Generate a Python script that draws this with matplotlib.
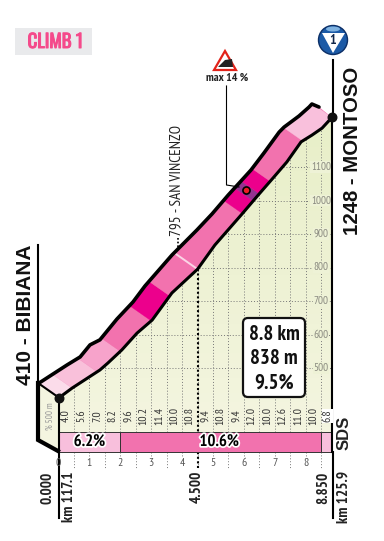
import numpy as np
import matplotlib
matplotlib.use('Agg')
import matplotlib.pyplot as plt
import matplotlib.patheffects as pe
from matplotlib.colors import LinearSegmentedColormap
from matplotlib.patches import Polygon, Rectangle, FancyBboxPatch, Circle, Ellipse
from matplotlib.transforms import Affine2D

narrow = ['PT Sans Narrow', 'Liberation Sans', 'DejaVu Sans']
wide = ['Liberation Sans', 'DejaVu Sans']
badge = ['Oswald', 'Liberation Sans', 'DejaVu Sans']
plt.rcParams['font.family'] = narrow
matplotlib.set_loglevel('error')

W, H = 384, 541

# lower edge of the road band = the altitude profile
profile_km = [0, .44, .89, 1.34, 1.6, 2.05, 2.54, 3.03, 3.67, 4.5, 5.06, 5.97, 6.46, 6.97, 7.39, 7.85, 8.2, 8.53, 8.85]
profile_alt = [410, 440, 467, 494, 515, 554, 604, 643, 724, 795, 867, 963, 1016, 1070, 1115, 1175, 1195, 1216, 1248]
# upper edge of the band as drawn (perspective offset)
upper_km = [-.63, .275, .70, 1.02, 1.34, 1.89, 2.41, 2.8, 3.67, 4.48, 4.97, 5.49, 6.23, 6.65, 7.14, 7.3, 7.78, 8.11, 8.2, 8.43]
upper_alt = [455, 509, 533, 569, 584, 646, 697, 745, 837, 912, 960, 1016, 1091, 1142, 1204, 1219, 1252, 1279, 1288, 1279]

# band colour sections
sect_start = [0, .44, 1.25, 2.0, 3.0, 3.6, 4.5, 5.95, 6.3, 6.5, 6.85, 7.9]
sect_end = [.44, 1.25, 2.0, 3.0, 3.6, 4.5, 5.95, 6.3, 6.5, 6.85, 7.9, 8.85]
sect_col = ['#fbdcea', '#f9c0da', '#f7a3cb', '#f272ae', '#ec008c', '#f272ae', '#f272ae',
            '#ec008c', '#93328f', '#ec008c', '#f272ae', '#f9c0dc']

grad_labels = ['4.0', '5.6', '7.0', '8.2', '9.6', '10.2', '11.4', '10.0', '10.8', '9.4',
               '10.8', '9.4', '12.0', '10.0', '12.6', '11.0', '10.0', '6.8']
grad_km = [.25, .75, 1.25, 1.75, 2.25, 2.75, 3.25, 3.75, 4.25, 4.75,
           5.25, 5.75, 6.25, 6.75, 7.25, 7.75, 8.25, 8.7]

bar_start = [0, 2, 8.5]
bar_end = [2, 8.5, 8.85]
bar_col = ['#f8bfdc', '#f272ae', '#f8bfdc']
bar_text = ['6.2%', '10.6%', '']
bar_text_km = [1.0, 5.2, 8.7]

km_ticks = [0, 1, 2, 3, 4, 5, 6, 7, 8]
alt_ticks = [500, 600, 700, 800, 900, 1000, 1100]

# pixel scale of the drawing
px_km = 30.9
px_m = 0.335
x0, y500 = 58.5, 368


def kmx(px):
    return (px - x0) / px_km


def alty(py):
    return 500 + (y500 - py) / px_m


fig = plt.figure(figsize=(W / 100, H / 100), dpi=100)
ax = fig.add_axes([0, 0, 1, 1])
ax.set_xlim(kmx(0), kmx(W))
ax.set_ylim(alty(H), alty(0))
ax.axis('off')

# furniture placed in image pixels, y going down
pxt = Affine2D().scale(1, -1).translate(0, H)

alt_base = alty(432)
alt_bar = alty(452)
prof_x = np.array(profile_km)
prof_y = np.array(profile_alt)

# green area under the profile
cmap = LinearSegmentedColormap.from_list('g', ['#f4f5e0', '#e8efc8'])
im = ax.imshow(np.linspace(0, 1, 64)[:, None], extent=[0, 8.85, alt_base, 1248], origin='lower',
               aspect='auto', cmap=cmap, zorder=1)
area = Polygon(list(zip(profile_km, profile_alt)) + [(8.85, alt_base), (0, alt_base)], closed=True,
               transform=ax.transData, fc='none', ec='none')
ax.add_patch(area)
im.set_clip_path(area)
ax.set_xlim(kmx(0), kmx(W))
ax.set_ylim(alty(H), alty(0))

# grid
for k in np.arange(.5, 8.6, .5):
    top = np.interp(k, prof_x, prof_y)
    ax.plot([k, k], [alt_base, top], color='#777777', lw=.7, ls=(0, (1, 2)), zorder=2)
    ax.plot([k, k], [alt_bar, alty(469 if k % 1 else 456)], color='#777777', lw=.7, ls=(0, (1, 2)), zorder=2)
for a in alt_ticks:
    left = np.interp(a, prof_y, prof_x)
    ax.plot([left, 8.85], [a, a], color='#777777', lw=.7, ls=(0, (1, 2)), zorder=2)
    ax.text(8.5, a, str(a), color='#8a8a80', fontsize=8, ha='center', va='center', zorder=3,
            bbox=dict(fc='#eef2d6', ec='none', pad=.6))

# left wall of the band
wall = Polygon([(38, 383), (58, 397), (58, 451), (38, 440)], closed=True, transform=pxt,
               fc='#f4f5e0', ec='none', zorder=2)
ax.add_patch(wall)
ax.plot([38, 38, 58], [383, 440, 451], transform=pxt, color='k', lw=3, solid_joinstyle='miter', zorder=6)
ax.plot([38, 58], [383, 397], transform=pxt, color='k', lw=1.5, zorder=6)
ax.text(50, 416, '% 500 m', transform=pxt, rotation=90, color='#999999', fontsize=6.5, ha='center', va='center', zorder=6)
ax.plot([38, 38], [245, 383], transform=pxt, color='k', lw=1.5, zorder=6)

# road band, sections clipped to its outline
outline = Polygon(list(zip(upper_km, upper_alt)) + list(zip(profile_km[::-1], profile_alt[::-1])), closed=True,
                  transform=ax.transData, fc='#f272ae', ec='none', zorder=3)
ax.add_patch(outline)
dx, dy = -20 / px_km * 1.3, 14 / px_m * 1.3
for a, b, c in zip(sect_start, sect_end, sect_col):
    ya, yb = np.interp(a, prof_x, prof_y), np.interp(b, prof_x, prof_y)
    sec = Polygon([(a - dx * .3, ya - dy * .3), (b - dx * .3, yb - dy * .3), (b + dx, yb + dy), (a + dx, ya + dy)],
                  closed=True, fc=c, ec=c, lw=.2, zorder=4)
    ax.add_patch(sec)
    sec.set_clip_path(outline)
# pale line at the intermediate point
ya = np.interp(4.5, prof_x, prof_y)
ln, = ax.plot([4.5, 4.5 + dx], [ya, ya + dy], color='#fbd5e6', lw=1.4, zorder=5)
ln.set_clip_path(outline)

ax.plot(upper_km, upper_alt, color='k', lw=2.6, solid_joinstyle='round', solid_capstyle='round', zorder=6)
ax.plot(profile_km, profile_alt, color='k', lw=2.2, solid_joinstyle='round', zorder=6)

# gradient labels
for k, t in zip(grad_km, grad_labels):
    ax.text(k, alty(416), t, rotation=90, color='#333333', fontsize=8.5, ha='center', va='center', zorder=7,
            bbox=dict(fc='white', ec='none', pad=.5) if t == '6.8' else None)

# summary bar
for a, b, c, t, tk in zip(bar_start, bar_end, bar_col, bar_text, bar_text_km):
    ax.add_patch(Rectangle((a, alt_bar), b - a, alt_base - alt_bar, fc=c, ec='#333333', lw=.7, zorder=5))
    if t:
        ax.text(tk, (alt_bar + alt_base) / 2, t, color='k', fontsize=12,
                fontweight='bold', ha='center', va='center', zorder=7,
                path_effects=[pe.withStroke(linewidth=2.5, foreground='white')])

# km ticks
for k in km_ticks:
    ax.text(k, alty(463), str(k), color='#555555', fontsize=8.5, ha='center', va='center', zorder=7)

# axes lines at start and finish
ax.plot([0, 0], [alty(397), alty(518)], color='k', lw=1.5, zorder=6)
ax.plot([8.85, 8.85], [alt_bar, 1248], color='k', lw=1.5, zorder=6)
ax.plot([332.5, 332.5], [60, 119], transform=pxt, color='k', lw=1.5, zorder=6)
ax.plot([332.5, 332.5], [452, 518], transform=pxt, color='k', lw=1.5, zorder=6)

# intermediate point
ax.plot([4.5, 4.5], [alty(468), 795], color='k', lw=1.5, ls=(0, (1, 1.2)), zorder=3)
ax.plot([178, 178], [238, 250], transform=pxt, color='k', lw=1.2, ls=(0, (1, 1.2)), zorder=3)
ax.text(176, 180, '795 - SAN VINCENZO', transform=pxt, rotation=90, fontsize=11, color='#222222', ha='center', va='center', zorder=7)

# summit and start dots
ax.scatter([0, 8.85], [410, 1248], s=38, color='#111111', zorder=8)

# steepest point
ax.plot([226.5, 226.5, 239], [86, 185, 187], transform=pxt, color='k', lw=.8, zorder=7)
ax.scatter([6.07], [1031], s=26, color='#ed1c24', edgecolor='k', lw=1.2, zorder=8)
ax.add_patch(Polygon([(225, 51), (214, 70), (236, 70)], closed=True, transform=pxt, fc='white', ec='#e2231a', lw=1.6, zorder=7))
ax.add_patch(Polygon([(218, 67), (225, 60), (232, 59), (233, 67)], closed=True, transform=pxt, fc='#222222', ec='none', zorder=8))
ax.text(227, 78, 'max 14 %', transform=pxt, fontsize=8.5, color='#222222', fontweight='bold', ha='center', va='center', zorder=7)

# place names
ax.text(26, 315, '410 - BIBIANA', transform=pxt, rotation=90, fontsize=15, fontweight='bold', color='#111111', family=wide, ha='center', va='center')
ax.text(352, 151, '1248 - MONTOSO', transform=pxt, rotation=90, fontsize=14.7, fontweight='bold', color='#111111', family=wide, ha='center', va='center')

# distance labels
ax.text(48, 488, '0.000', transform=pxt, rotation=90, fontsize=11, fontweight='bold', color='#222222', ha='center', va='center')
ax.text(69, 497, 'km 117.1', transform=pxt, rotation=90, fontsize=11, fontweight='bold', color='#222222', ha='center', va='center')
ax.text(197, 487, '4.500', transform=pxt, rotation=90, fontsize=11, fontweight='bold', color='#222222', ha='center', va='center')
ax.text(323, 488, '8.850', transform=pxt, rotation=90, fontsize=11, fontweight='bold', color='#222222', ha='center', va='center')
ax.text(344, 497, 'km 125.9', transform=pxt, rotation=90, fontsize=11, fontweight='bold', color='#222222', ha='center', va='center')
ax.text(344, 433, 'SDS', transform=pxt, rotation=90, fontsize=12, fontweight='bold', color='#222222', family=wide, ha='center', va='center')

# info box
ax.add_patch(FancyBboxPatch((246, 321), 56, 73, boxstyle='round,pad=3,rounding_size=5', transform=pxt,
                            fc='white', ec='#111111', lw=1.6, zorder=7))
for yy, t in zip([335, 359, 383], ['8.8 km', '838 m', '9.5%']):
    ax.text(274, yy, t, transform=pxt, fontsize=15, fontweight='bold', color='#111111', ha='center', va='center', zorder=8)

# climb badge
ax.add_patch(Rectangle((15, 28), 77, 27, transform=pxt, fc='#e9eaec', ec='none'))
ax.text(55, 42, 'CLIMB 1', transform=pxt, fontsize=13.5, color='#f54a8b', family=badge, ha='center', va='center',
        path_effects=[pe.withStroke(linewidth=.7, foreground='#f54a8b')])

# climb icon
ax.add_patch(Circle((333, 40), 14.5, transform=pxt, fc='#1c5aa6', ec='#0c2f66', lw=1, zorder=7))
ax.add_patch(Ellipse((333, 29), 14, 5, transform=pxt, fc='#7fb2e0', ec='none', zorder=8))
ax.add_patch(Polygon([(322, 33), (345, 33), (333, 53)], closed=True, transform=pxt, fc='white', ec='none', zorder=8))
ax.text(333, 40, '1', transform=pxt, fontsize=10, fontweight='bold', style='italic', color='#10264a', ha='center', va='center', zorder=9)

fig.savefig('out.png', dpi=100)
